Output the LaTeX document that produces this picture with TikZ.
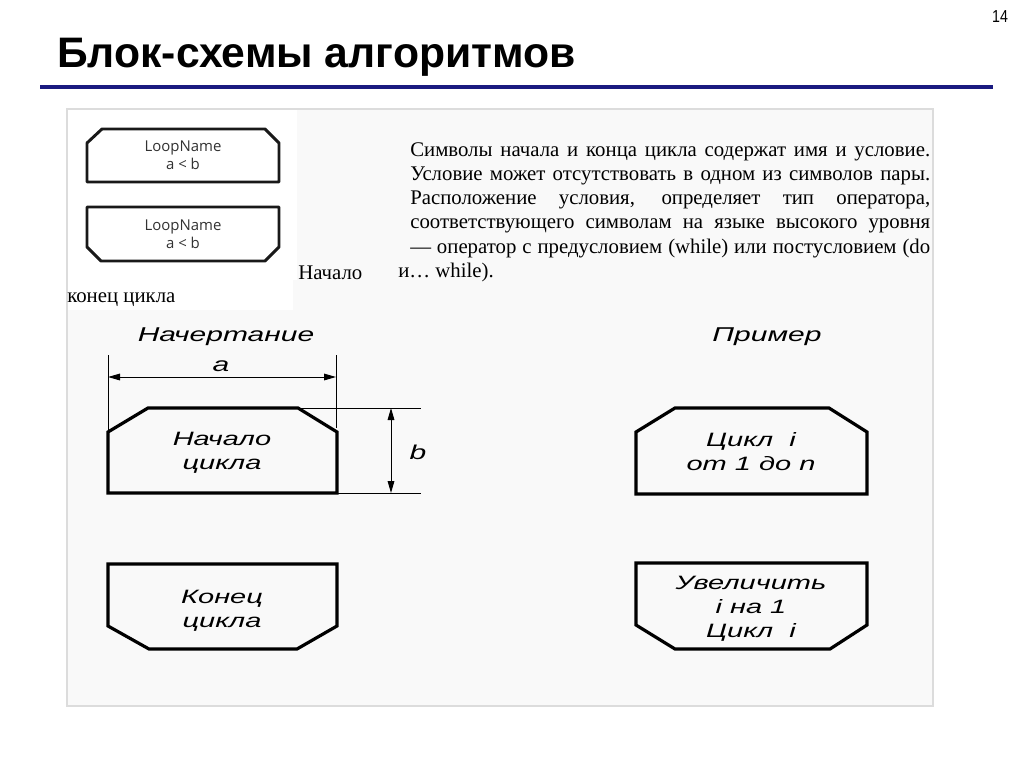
\documentclass[tikz,border=0pt]{standalone}
\usepackage{graphicx}
\usepackage{fontspec}
\setmainfont{Liberation Serif}
\setsansfont{Liberation Sans}
\newfontfamily\loopfont{Open Sans}
\usetikzlibrary{arrows.meta}
\newcommand{\wideit}[1]{\scalebox{1.5}[1]{\sffamily\itshape #1}}
\newcommand{\parline}[1]{\makebox[390pt][s]{#1}}
\definecolor{navy}{RGB}{26,26,128}
\definecolor{framegray}{RGB}{220,220,220}
\definecolor{framefill}{RGB}{249,249,249}
\definecolor{looptext}{RGB}{50,50,50}
\tikzset{
  symbol/.style={line width=2.4pt, black, line join=miter},
  loopbox/.style={line width=2.2pt, black!90, line join=round},
  looplabel/.style={font=\loopfont\fontsize{11.2pt}{13.5pt}\selectfont, text=looptext, align=center, inner sep=0pt},
  boxtext/.style={font=\fontsize{14.5pt}{18pt}\selectfont, align=center, inner sep=0pt},
  headtext/.style={font=\fontsize{15pt}{18pt}\selectfont, inner sep=0pt},
  partext/.style={font=\fontsize{15.6pt}{18pt}\selectfont, anchor=base west, inner sep=0pt},
  dimline/.style={line width=0.75pt},
  dimarrow/.style={line width=0.75pt, {Triangle[length=9pt,width=5pt]}-{Triangle[length=9pt,width=5pt]}},
}
\begin{document}
\begin{tikzpicture}[x=0.75pt,y=-0.75pt]
\useasboundingbox (0,0) rectangle (1024,767);
\fill[white] (0,0) rectangle (1024,767);
% title
\node[anchor=base west, inner sep=0pt, font=\sffamily\bfseries\fontsize{32pt}{36pt}\selectfont] (title) at (57,68) {Блок-схемы алгоритмов};
\node[inner sep=0pt, font=\sffamily\fontsize{13pt}{15pt}\selectfont] (pagenum) at (1000,17) {\scalebox{0.82}[1]{14}};
\draw[navy, line width=3pt] (40,87) -- (993,87);
% frame
\draw[framegray, fill=framefill, line width=0.8pt] (67,109) rectangle (933,706);
\fill[white] (68,110) rectangle (297,280);
\fill[white] (68,280) rectangle (293,310);
% loop boxes (top left)
\draw[loopbox] (87,143) -- (102,129) -- (265,129) -- (279,143) -- (279,182) -- (87,182) -- cycle;
\node[looplabel] (lb1) at (183,155) {LoopName\\a < b};
\draw[loopbox] (87,207) -- (279,207) -- (279,247) -- (265,261) -- (101,261) -- (87,247) -- cycle;
\node[looplabel] (lb2) at (183,234) {LoopName\\a < b};
% paragraph
\node[partext] (p1) at (410,156) {\parline{Символы начала и конца цикла содержат имя и условие.}};
\node[partext] (p2) at (410,180) {\parline{Условие может отсутствовать в одном из символов пары.}};
\node[partext] (p3) at (410,204) {\parline{Расположение условия, определяет тип оператора,}};
\node[partext] (p4) at (410,228) {\parline{соответствующего символам на языке высокого уровня}};
\node[partext] (p5) at (410,253) {\parline{— оператор с предусловием (while) или постусловием (do}};
\node[partext] (p6) at (398,277) {и… while).};
\node[partext] (nach) at (298,279) {Начало};
\node[partext] (konec) at (67,302) {конец цикла};
% headings
\node[headtext] (h1) at (226,337) {\wideit{Начертание}};
\node[headtext] (h2) at (767,337) {\wideit{Пример}};
% dimension a
\coordinate (ea1) at (108,355);
\coordinate (ea1b) at (108,432);
\coordinate (ea2) at (336,355);
\coordinate (ea2b) at (336,428);
\draw[dimline] (ea1) -- (ea1b);
\draw[dimline] (ea2) -- (ea2b);
\coordinate (aa1) at (108,377);
\coordinate (aa2) at (336,377);
\draw[dimarrow] (aa1) -- (aa2);
\node[headtext] (alab) at (221,366) {\wideit{a}};
% dimension b
\coordinate (eb1) at (300,408);
\coordinate (eb1b) at (421,408);
\coordinate (eb2) at (337,493);
\coordinate (eb2b) at (421,493);
\draw[dimline] (eb1) -- (eb1b);
\draw[dimline] (eb2) -- (eb2b);
\coordinate (ba1) at (391,408);
\coordinate (ba2) at (391,493);
\draw[dimarrow] (ba1) -- (ba2);
\node[headtext] (blab) at (418,452) {\wideit{b}};
% symbol: loop start
\draw[symbol] (108,432) -- (148,408) -- (298,408) -- (337,432) -- (337,493) -- (108,493) -- cycle;
\node[boxtext] (t1) at (222,453) {\wideit{Начало}\\\wideit{цикла}};
% symbol: loop end
\draw[symbol] (108,564) -- (337,564) -- (337,626) -- (297,649) -- (149,649) -- (108,626) -- cycle;
\node[boxtext] (t2) at (222,611) {\wideit{Конец}\\\wideit{цикла}};
% example: loop start
\draw[symbol] (636,432) -- (675,408) -- (829,408) -- (867,432) -- (867,494) -- (636,494) -- cycle;
\node[boxtext] (t3) at (751,452) {\wideit{Цикл\ \ i}\\\wideit{от 1 до n}};
% example: loop end
\draw[symbol] (636,563) -- (867,563) -- (867,625) -- (830,649) -- (675,649) -- (636,625) -- cycle;
\node[boxtext] (t4) at (751,609) {\wideit{Увеличить}\\\wideit{i на 1}\\\wideit{Цикл\ \ i}};
\end{tikzpicture}
\end{document}
